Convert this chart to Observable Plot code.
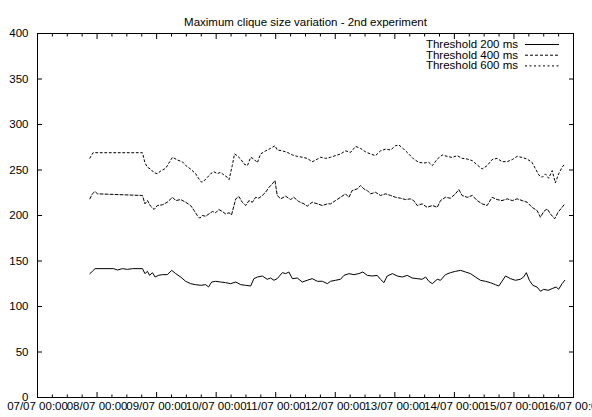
<!DOCTYPE html>
<html><head><meta charset="utf-8">
<script src="https://cdn.jsdelivr.net/npm/d3@7"></script>
<script src="https://cdn.jsdelivr.net/npm/@observablehq/plot@0.6"></script>
<style>
body{margin:0;background:#fff;}
#chart{width:592px;height:417px;}
</style></head><body><div id="chart"></div>
<script>
const title = "Maximum clique size variation - 2nd experiment";
const seriesNames = ["Threshold 200 ms", "Threshold 400 ms", "Threshold 600 ms"];
const startDate = "2009-07-07T00:00Z";
const endDate = "2009-07-16T00:00Z";
const yTicks = [0, 50, 100, 150, 200, 250, 300, 350, 400];

// [hours since 07/07 00:00, max clique size]
const s200 = [[21.1,136.1],[22.1,138.6],[23.2,141.6],[30.7,141.6],[32.2,140.1],[34.2,141.6],[36.2,140.8],[38.3,141.6],[42.3,141.6],[43.3,136.1],[44.3,138.6],[45.2,134.2],[46.3,137.2],[47.4,132.4],[48.7,134.2],[50.3,135],[52.3,135],[54.1,139.7],[55.7,136.1],[57.7,132.4],[59.7,127.7],[61.7,125.1],[63.7,124],[65.8,123.3],[67.8,124],[68.9,121.4],[70.2,126.9],[71.8,127.7],[73.8,126.9],[75.8,126.2],[77.8,125.1],[79.9,126.9],[81.9,124],[83.9,123.3],[85.9,122.5],[87.2,130.6],[88.6,132.4],[90.6,133.5],[92.6,129.9],[93.9,131.3],[95.3,128.8],[96.6,130.6],[98.7,137.2],[100.0,136.1],[101.3,137.9],[102.7,130.6],[104.7,131.3],[106.7,126.9],[108.7,128.8],[110.7,130.6],[112.8,127.7],[114.8,127.7],[116.8,125.1],[118.1,127.7],[120.1,128.8],[122.1,129.9],[123.5,134.2],[125.5,136.1],[127.5,135],[129.5,136.1],[131.1,137.9],[132.9,134.2],[134.9,133.5],[136.9,134.2],[138.2,129.9],[139.6,126.2],[140.9,133.5],[143.0,136.1],[145.0,133.5],[147.0,132.4],[149.0,134.2],[151.0,131.3],[153.0,130.6],[155.0,129.9],[156.4,132.4],[157.7,127.7],[159.1,125.1],[161.1,129.9],[162.4,128.8],[164.4,135],[166.4,137.2],[168.4,138.6],[170.5,139.7],[172.5,137.9],[174.5,136.1],[176.5,132.4],[178.5,128.8],[180.5,127.7],[182.5,126.2],[184.5,124],[185.9,122.5],[187.2,127.7],[188.6,133.5],[190.6,130.6],[192.6,128.8],[194.6,129.9],[195.9,132.4],[197.0,137.2],[198.2,128.8],[199.6,123.3],[201.3,121.4],[202.7,116.7],[204.0,118.9],[205.8,117.8],[207.4,119.7],[209.0,121.4],[210.0,118.9],[211.4,125.1],[212.5,128.8]];

const s400 = [[21.1,218.3],[22.1,223.8],[23.2,226.3],[24.2,223.8],[42.3,222],[43.3,212.8],[44.3,216.4],[45.6,210.2],[47.0,206.6],[48.3,211],[50.3,211.7],[52.3,214.6],[54.4,220],[55.7,216.4],[57.7,217.5],[59.7,214.6],[61.7,211],[63.1,205.5],[64.4,200],[65.4,197],[66.4,200],[67.8,199.2],[69.1,201.8],[70.5,204.4],[71.8,203],[73.1,206.6],[74.5,204.4],[75.8,201.8],[77.2,203],[78.2,200.8],[79.9,218.3],[81.2,220.8],[82.5,214.6],[83.9,211],[85.2,216.4],[86.6,214.6],[87.9,220],[89.2,219],[90.6,222],[91.9,225.5],[93.3,231],[94.6,234.7],[95.7,238.4],[96.6,222],[98.0,218.3],[100.0,221.2],[102.0,217.5],[103.3,220],[105.3,215.3],[107.4,212.8],[108.7,210.2],[110.7,214.6],[112.8,212.8],[114.8,211],[116.8,212.8],[118.1,212.8],[120.1,216.4],[122.1,220],[124.1,223.8],[125.5,220],[126.8,227.4],[128.9,229.3],[130.2,232.9],[131.5,229.3],[132.9,227.4],[134.2,223.8],[136.2,225.5],[138.2,222],[140.3,223.8],[142.3,222],[144.3,220],[146.3,219],[148.3,217.5],[150.3,218.3],[151.6,216.4],[153.0,211],[155.0,212.8],[157.0,209],[159.1,211],[161.1,209],[162.4,216.4],[164.4,220],[166.4,219],[168.4,223.8],[169.8,228.5],[171.1,222],[173.2,220],[175.2,222],[177.2,216.4],[179.2,212.8],[181.2,211],[183.2,220],[185.2,217.5],[187.2,216.4],[189.3,218.3],[191.3,216.4],[193.3,218.3],[195.3,216.4],[197.3,214.6],[199.3,209],[201.3,205.5],[202.7,198.1],[204.0,204.4],[205.4,207.3],[206.7,201.8],[208.4,196.4],[209.8,203.6],[211.1,208],[212.5,212.8]];

const s600 = [[21.1,263],[22.4,269],[42.3,269],[43.3,258],[44.3,253],[45.6,251],[47.0,247],[48.3,246],[49.7,249],[51.7,252],[53.7,261],[54.4,264],[56.4,261],[58.4,259],[59.7,255],[61.7,251],[63.7,246],[65.1,240],[66.2,236.5],[67.1,238],[68.5,242],[69.8,246],[71.1,248],[72.5,246],[73.8,247.5],[75.1,244.6],[76.5,242],[77.2,239.5],[78.5,255],[79.4,267.6],[80.5,265.7],[81.9,262],[83.2,256.6],[84.6,254.8],[85.9,264],[87.2,262],[88.6,258],[89.9,267.6],[91.9,271],[93.9,273.7],[95.7,276.7],[96.6,272],[98.7,271],[100.7,269.4],[102.7,266.5],[104.7,265],[106.7,264],[108.7,262.8],[110.7,259],[112.1,261],[114.1,264],[116.1,262.8],[118.1,264],[120.1,265.8],[122.1,267.6],[124.1,271],[126.2,269.4],[128.2,276],[130.2,273.7],[132.2,270],[134.2,267.6],[136.2,265.8],[138.2,271],[140.3,273],[142.3,272],[144.3,276.7],[145.6,277.5],[147.6,273],[149.6,267.6],[151.6,262],[153.7,258.4],[155.7,257.7],[157.7,258.4],[159.1,254.8],[161.1,262],[163.1,266.5],[165.1,265],[167.1,263.8],[169.1,265.8],[171.1,262.8],[173.2,262],[175.2,260.3],[177.2,255.6],[179.2,251.2],[181.2,254.8],[183.2,261.4],[185.2,262.8],[187.2,259.2],[189.3,259.2],[191.3,261.4],[193.3,265],[195.3,263.8],[197.3,262],[199.3,258.4],[200.7,251.2],[202.0,244.6],[203.4,242],[204.7,245.7],[206.0,240.9],[207.4,249.3],[208.7,235.8],[210.0,245.7],[211.4,253],[212.5,256.6]];

const dashes = [null, "3,2", "2,2.5"];

const t0 = new Date(startDate);
const t1 = new Date(endDate);
const toRows = (arr, name) => arr.map(([h, v]) => ({name, date: new Date(+t0 + h * 3600e3), value: v}));
const allSeries = [s200, s400, s600].map((s, i) => toRows(s, seriesNames[i]));
const dayTicks = d3.utcDay.range(t0, new Date(+t1 + 1));
const minorTicks = d3.utcHour.every(6).range(t0, new Date(+t1 + 1)).filter(d => d.getUTCHours() !== 0);
const fmt = d3.utcFormat("%d/%m %H:%M");
const ink = "#000";

const plot = Plot.plot({
  width: 592, height: 417,
  marginLeft: 37, marginRight: 19, marginTop: 33, marginBottom: 20,
  style: {fontFamily: "'Liberation Sans', Arial, sans-serif", fontSize: "11.5px", background: "#fff", color: ink},
  x: {type: "utc", domain: [t0, t1]},
  y: {domain: [0, 400]},
  marks: [
    Plot.frame({stroke: ink}),
    Plot.axisX(dayTicks, {anchor: "bottom", tickSize: 0, tickPadding: 4.5, tickFormat: fmt, label: null}),
    Plot.axisX(dayTicks, {anchor: "bottom", tickSize: -5, fill: "none", label: null}),
    Plot.axisX(minorTicks, {anchor: "bottom", tickSize: -2.5, fill: "none", label: null}),
    Plot.axisX(dayTicks, {anchor: "top", tickSize: -5, fill: "none", label: null}),
    Plot.axisX(minorTicks, {anchor: "top", tickSize: -2.5, fill: "none", label: null}),
    Plot.axisY(yTicks, {anchor: "left", tickSize: 0, tickPadding: 9, label: null}),
    Plot.axisY(yTicks, {anchor: "left", tickSize: -5, fill: "none", label: null}),
    Plot.axisY(yTicks, {anchor: "right", tickSize: -5, fill: "none", label: null}),
    ...allSeries.map((rows, i) => Plot.line(rows, {x: "date", y: "value", stroke: ink, strokeWidth: 1, strokeDasharray: dashes[i]})),
    Plot.text([title], {frameAnchor: "top", dy: -16, fill: ink})
  ]
});
document.getElementById("chart").appendChild(plot);

// legend (top right, inside the frame)
const svg = d3.select(plot);
const lg = svg.append("g").attr("font-family", "'Liberation Sans', Arial, sans-serif").attr("font-size", "11.5px");
seriesNames.forEach((name, i) => {
  const y = 44 + i * 10.7;
  lg.append("text").attr("x", 518).attr("y", y).attr("dy", "0.35em").attr("text-anchor", "end").attr("fill", ink).text(name);
  lg.append("line").attr("x1", 525).attr("x2", 559).attr("y1", y + 0.5).attr("y2", y + 0.5)
    .attr("stroke", ink).attr("stroke-width", 1).attr("stroke-dasharray", dashes[i]);
});
</script></body></html>
